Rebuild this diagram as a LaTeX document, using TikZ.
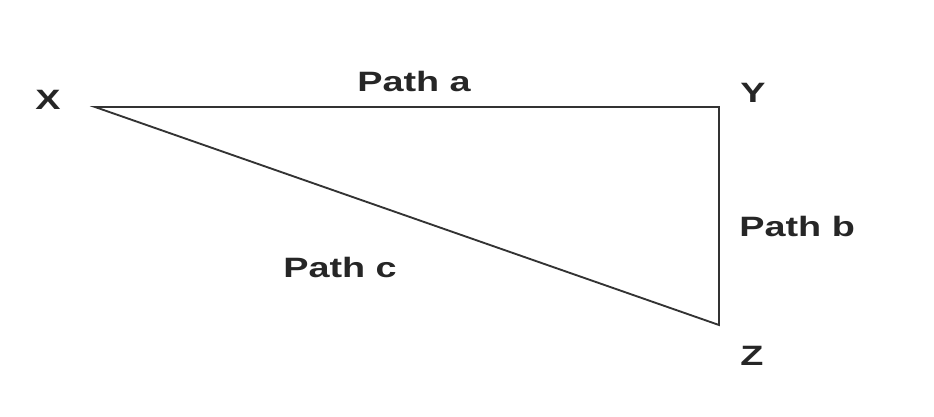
\documentclass[tikz,border=0pt]{standalone}
\usepackage{fontspec}
\setmainfont{Liberation Sans}
\begin{document}
\begin{tikzpicture}[x=0.75pt,y=-0.75pt,
  lbl/.style={font=\bfseries\fontsize{21pt}{24pt}\selectfont, text=black!85, inner sep=0pt, anchor=base west, xscale=1.35, transform shape},
  edge/.style={draw=black!80, line width=1.4pt, line join=miter}]
\useasboundingbox (0,0) rectangle (934,417);
\coordinate (X) at (95,107);
\coordinate (Y) at (719,107);
\coordinate (Z) at (719,325);
\draw[edge] (X) -- (Y) -- (Z) -- cycle;
\node[lbl] (lx) at (35,110) {X};
\node[lbl] (ly) at (740,103) {Y};
\node[lbl] (lz) at (740,365) {Z};
\node[lbl] (pa) at (357,92) {Path a};
\node[lbl] (pb) at (739,236) {Path b};
\node[lbl] (pc) at (283,277) {Path c};
\end{tikzpicture}
\end{document}
